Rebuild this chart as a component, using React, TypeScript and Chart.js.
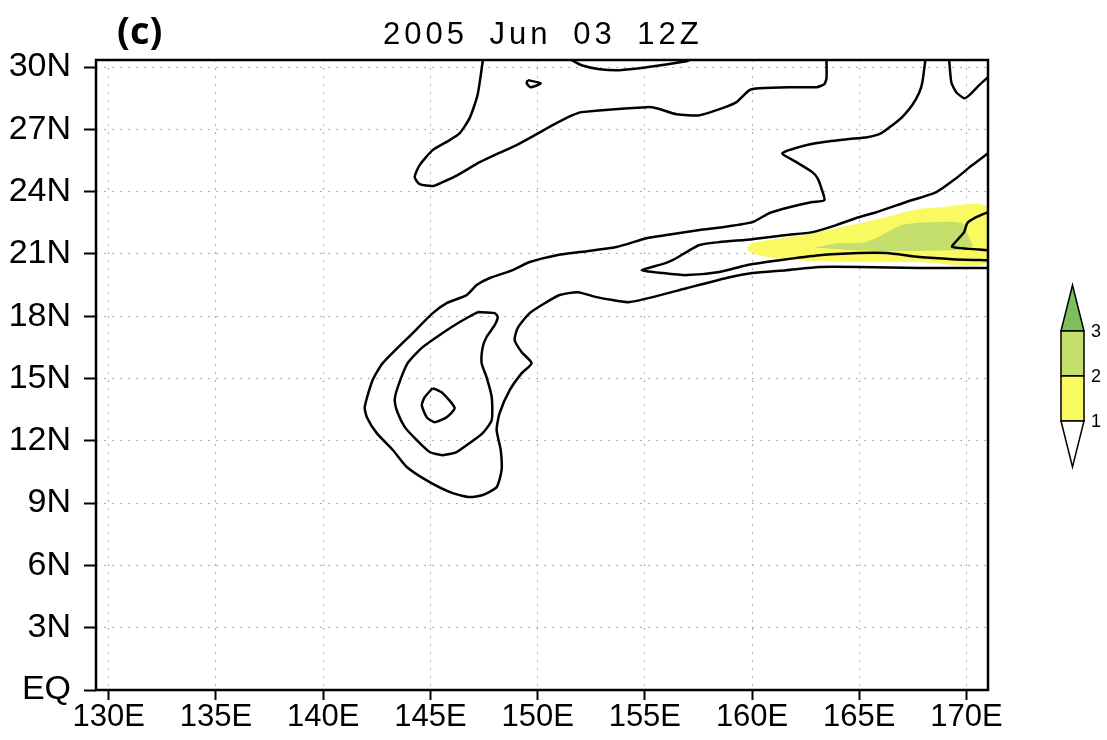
import React, { useEffect, useRef } from 'react';
import { Chart, registerables } from 'chart.js';

Chart.register(...registerables);

// ---- axis ticks ----
const lonTicks = [130, 135, 140, 145, 150, 155, 160, 165, 170];
const lonLabels = ['130E', '135E', '140E', '145E', '150E', '155E', '160E', '165E', '170E'];
const latTicks = [0, 3, 6, 9, 12, 15, 18, 21, 24, 27, 30];
const latLabels = ['EQ', '3N', '6N', '9N', '12N', '15N', '18N', '21N', '24N', '27N', '30N'];
const lonMin = 129.41;
const lonMax = 171;
const latMin = 0;
const latMax = 30.34;

const titleText = '2005 Jun 03 12Z';
const panelText = '(c)';

// ---- colour bar ----
const legendLevels = ['1', '2', '3'];
const shadeColors = ['#f9f962', '#c4df6b', '#7dbf5d'];

// ---- contour lines [lon, lat] ----
const contourTongue: number[][] = [
  [147.45, 30.34], [147.2, 28.65], [146.83, 27.54], [146.37, 26.82], [145.9, 26.48],
  [145.11, 26.0], [144.5, 25.28], [144.27, 24.7], [144.5, 24.36], [145.11, 24.27],
  [145.57, 24.46], [146.27, 24.8], [147.3, 25.42], [148.09, 25.81], [149.02, 26.24],
  [149.96, 26.77], [150.7, 27.2], [151.63, 27.68], [152.05, 27.83], [155.08, 28.07],
  [155.54, 28.02], [156.48, 27.73], [157.55, 27.68], [158.62, 28.02], [159.27, 28.31],
  [159.88, 28.89], [160.34, 28.98], [161.74, 29.03], [163.0, 29.03], [163.37, 29.18],
  [163.47, 29.47], [163.47, 30.34],
];

const contourArc: number[][] = [
  [151.58, 30.34], [152.05, 30.09], [152.89, 29.9], [153.82, 29.85], [155.08, 29.99],
  [156.94, 30.28], [157.08, 30.34],
];

const contourTiny: number[][] = [
  [149.54, 29.37], [150.15, 29.22], [149.68, 29.03], [149.49, 29.22], [149.54, 29.37],
];

const contourTopRight: number[][] = [
  [169.19, 30.34], [169.29, 29.27], [169.52, 28.79], [169.89, 28.5], [170.13, 28.65],
  [170.59, 29.13], [171, 29.51],
];

const contourOuter: number[][] = [
  [168.08, 30.34], [167.94, 29.27], [167.8, 28.79], [167.47, 28.17], [167.0, 27.59],
  [166.54, 27.2], [166.03, 26.82], [165.37, 26.62], [164.53, 26.53], [163.28, 26.38],
  [162.53, 26.24], [161.41, 25.85], [162.07, 25.42], [162.81, 24.94], [163.05, 24.65],
  [163.23, 24.17], [163.37, 23.59], [162.81, 23.5], [161.74, 23.25], [160.81, 22.97],
  [160.02, 22.53], [158.62, 22.29], [157.55, 22.15], [156.01, 21.91], [155.08, 21.76],
  [153.68, 21.33], [151.96, 21.09], [150.89, 20.94], [149.63, 20.61], [148.84, 20.22],
  [147.77, 19.84], [147.16, 19.5], [146.69, 19.02], [145.76, 18.63], [145.11, 18.15],
  [144.18, 17.19], [142.78, 15.74], [142.31, 14.93], [141.94, 13.63], [142.04, 13.14],
  [142.5, 12.37], [143.25, 11.56], [143.9, 10.74], [144.97, 10.01], [146.04, 9.48],
  [146.83, 9.29], [147.44, 9.39], [148.09, 9.77], [148.32, 10.59], [148.28, 11.56],
  [148.09, 12.52], [148.23, 13.34], [148.7, 14.44], [149.26, 15.26], [149.72, 15.74],
  [149.26, 16.27], [148.93, 16.85], [149.07, 17.43], [149.63, 18.15], [150.42, 18.68],
  [151.03, 19.02], [151.87, 19.16], [152.75, 18.92], [153.5, 18.78], [154.29, 18.68],
  [155.36, 18.92], [156.94, 19.35], [158.95, 19.88], [160.02, 20.08], [161.6, 20.22],
  [163.14, 20.37], [165.0, 20.37], [167.8, 20.32], [171, 20.32],
];

const contourBand: number[][] = [
  [171, 25.85], [170.27, 25.28], [169.52, 24.65], [168.59, 23.98], [167.19, 23.5],
  [165.79, 23.01], [164.86, 22.73], [163.93, 22.39], [162.81, 22.05], [161.6, 21.91],
  [160.02, 21.71], [158.48, 21.57], [157.55, 21.43], [156.94, 21.09], [156.29, 20.7],
  [155.82, 20.51], [154.85, 20.22], [155.82, 20.08], [156.94, 19.98], [158.48, 20.13],
  [159.74, 20.46], [161.28, 20.7], [163.14, 20.94], [165.0, 21.04], [166.26, 21.04],
  [167.8, 20.85], [169.33, 20.75], [171, 20.7],
];

const contourEdge: number[][] = [
  [171, 23.01], [170.45, 22.77], [170.03, 22.48], [169.89, 22.05], [169.57, 21.67],
  [169.33, 21.34], [171, 21.18],
];

const contourLobe: number[][] = [
  [147.2, 18.2], [148.0, 18.15], [148.14, 17.96], [148.0, 17.57], [147.62, 17.0],
  [147.44, 16.51], [147.39, 15.74], [147.62, 15.07], [147.86, 14.11], [147.86, 13.0],
  [147.44, 12.37], [146.83, 11.89], [146.22, 11.46], [145.57, 11.31], [144.97, 11.46],
  [144.36, 12.04], [143.81, 12.66], [143.48, 13.34], [143.34, 13.96], [143.48, 14.59],
  [143.94, 15.74], [144.64, 16.51], [145.57, 17.19], [146.37, 17.72], [147.2, 18.2],
];

const contourCore: number[][] = [
  [145.11, 14.54], [145.57, 14.3], [146.13, 13.58], [145.76, 13.14], [145.2, 12.9],
  [144.83, 13.14], [144.6, 13.72], [144.74, 14.11], [145.11, 14.54],
];

// ---- shaded areas [lon, lat] ----
const shadeYellow: number[][] = [
  [159.74, 21.3], [160.02, 21.52], [160.81, 21.67], [162.35, 21.91], [163.93, 22.24],
  [165.0, 22.48], [166.26, 22.77], [167.47, 23.11], [168.73, 23.25], [171, 23.25],
  [171, 20.61], [167.8, 20.61], [164.7, 20.61], [162.2, 20.7], [160.67, 20.85],
  [159.9, 21.09], [159.74, 21.3],
];

const shadeGreen: number[][] = [
  [162.81, 21.28], [163.93, 21.52], [165.33, 21.57], [167.0, 22.39], [168.4, 22.53],
  [169.8, 22.48], [170.03, 22.0], [170.27, 21.33], [169.33, 21.18], [166.26, 21.14],
  [164.67, 21.18], [163.45, 21.28], [162.81, 21.28],
];

const contours = [
  contourTongue, contourArc, contourTiny, contourTopRight, contourOuter,
  contourBand, contourEdge, contourLobe, contourCore,
];

const toPts = (arr: number[][]) => arr.map(([x, y]) => ({ x, y }));

const FONT = 'Liberation Sans';

const decorPlugin = {
  id: 'decor',
  afterDraw(chart: any) {
    const { ctx, chartArea } = chart;
    const { left, right, top, bottom } = chartArea;
    ctx.save();
    // frame
    ctx.strokeStyle = '#000';
    ctx.lineWidth = 2.5;
    ctx.setLineDash([]);
    ctx.strokeRect(left, top, right - left, bottom - top);

    // title
    ctx.fillStyle = '#000';
    ctx.font = `31px "${FONT}"`;
    ctx.textAlign = 'left';
    ctx.textBaseline = 'alphabetic';
    (ctx as any).letterSpacing = '4px';
    (ctx as any).wordSpacing = '9px';
    ctx.fillText(titleText, 383, 44);
    (ctx as any).letterSpacing = '0px';
    (ctx as any).wordSpacing = '0px';

    // panel label
    ctx.font = 'bold 38px "Open Sans"';
    ctx.fillText(panelText, 117, 44);

    // colour bar
    const x0 = 1061, x1 = 1084, xc = 1072.5;
    const yTip = 285, y3 = 331, y2 = 376, y1 = 421, yBot = 467;
    ctx.lineWidth = 1.5;
    ctx.strokeStyle = '#000';
    // top triangle
    ctx.beginPath();
    ctx.moveTo(x0, y3); ctx.lineTo(xc, yTip); ctx.lineTo(x1, y3); ctx.closePath();
    ctx.fillStyle = shadeColors[2]; ctx.fill(); ctx.stroke();
    // boxes
    ctx.fillStyle = shadeColors[1];
    ctx.fillRect(x0, y3, x1 - x0, y2 - y3);
    ctx.strokeRect(x0, y3, x1 - x0, y2 - y3);
    ctx.fillStyle = shadeColors[0];
    ctx.fillRect(x0, y2, x1 - x0, y1 - y2);
    ctx.strokeRect(x0, y2, x1 - x0, y1 - y2);
    // bottom triangle
    ctx.beginPath();
    ctx.moveTo(x0, y1); ctx.lineTo(xc, yBot); ctx.lineTo(x1, y1); ctx.closePath();
    ctx.fillStyle = '#fff'; ctx.fill(); ctx.stroke();
    // labels
    ctx.fillStyle = '#000';
    ctx.font = `18px "${FONT}"`;
    ctx.textBaseline = 'middle';
    const ys = [y1, y2, y3];
    legendLevels.forEach((lab, i) => ctx.fillText(lab, 1091, ys[i] + 1));
    ctx.restore();
  },
};

export default function App() {
  const ref = useRef<HTMLCanvasElement>(null);
  useEffect(() => {
    const lineSets = contours.map((c) => ({
      data: toPts(c),
      showLine: true,
      borderColor: '#000',
      borderWidth: 2.5,
      pointRadius: 0,
      fill: false,
      tension: 0.2,
    }));
    const shadeSets = [
      { data: toPts(shadeGreen), color: shadeColors[1] },
      { data: toPts(shadeYellow), color: shadeColors[0] },
    ].map((s) => ({
      data: s.data,
      showLine: true,
      borderWidth: 0,
      borderColor: s.color,
      backgroundColor: s.color,
      pointRadius: 0,
      fill: 'shape',
      tension: 0.3,
    }));

    const chart = new Chart(ref.current as HTMLCanvasElement, {
      type: 'scatter',
      data: { datasets: [...lineSets, ...shadeSets] as any },
      options: {
        responsive: false,
        animation: false,
        events: [],
        layout: { padding: { left: 0, right: 119, top: 60, bottom: 0 } },
        plugins: { legend: { display: false }, tooltip: { enabled: false }, title: { display: false } },
        scales: {
          x: {
            type: 'linear',
            position: 'bottom',
            min: lonMin,
            max: lonMax,
            afterBuildTicks: (s: any) => { s.ticks = lonTicks.map((v) => ({ value: v })); },
            afterFit: (s: any) => { s.height = 50; },
            ticks: {
              autoSkip: false,
              maxRotation: 0,
              minRotation: 0,
              padding: 2,
              color: '#000',
              font: { family: FONT, size: 31, lineHeight: 1 },
              callback: (_v: any, i: number) => lonLabels[i],
            },
            grid: { color: '#b0b0b0', lineWidth: 1, tickLength: 10, tickColor: '#000', tickWidth: 2, tickBorderDash: [] },
            border: { display: false, dash: [2, 6] },
          },
          y: {
            type: 'linear',
            min: latMin,
            max: latMax,
            afterBuildTicks: (s: any) => { s.ticks = latTicks.map((v) => ({ value: v })); },
            afterFit: (s: any) => { s.width = 96; },
            ticks: {
              autoSkip: false,
              padding: 13,
              color: '#000',
              font: { family: FONT, size: 34 },
              callback: (_v: any, i: number) => latLabels[i],
            },
            grid: { color: '#b0b0b0', lineWidth: 1, tickLength: 12, tickColor: '#000', tickWidth: 2, tickBorderDash: [] },
            border: { display: false, dash: [2, 6] },
          },
        },
      } as any,
      plugins: [decorPlugin],
    });
    return () => chart.destroy();
  }, []);
  return (
    <div style={{ position: 'absolute', left: 0, top: 0, width: 1107, height: 740, background: '#fff' }}>
      <canvas ref={ref} width={1107} height={740} style={{ display: 'block' }} />
    </div>
  );
}
